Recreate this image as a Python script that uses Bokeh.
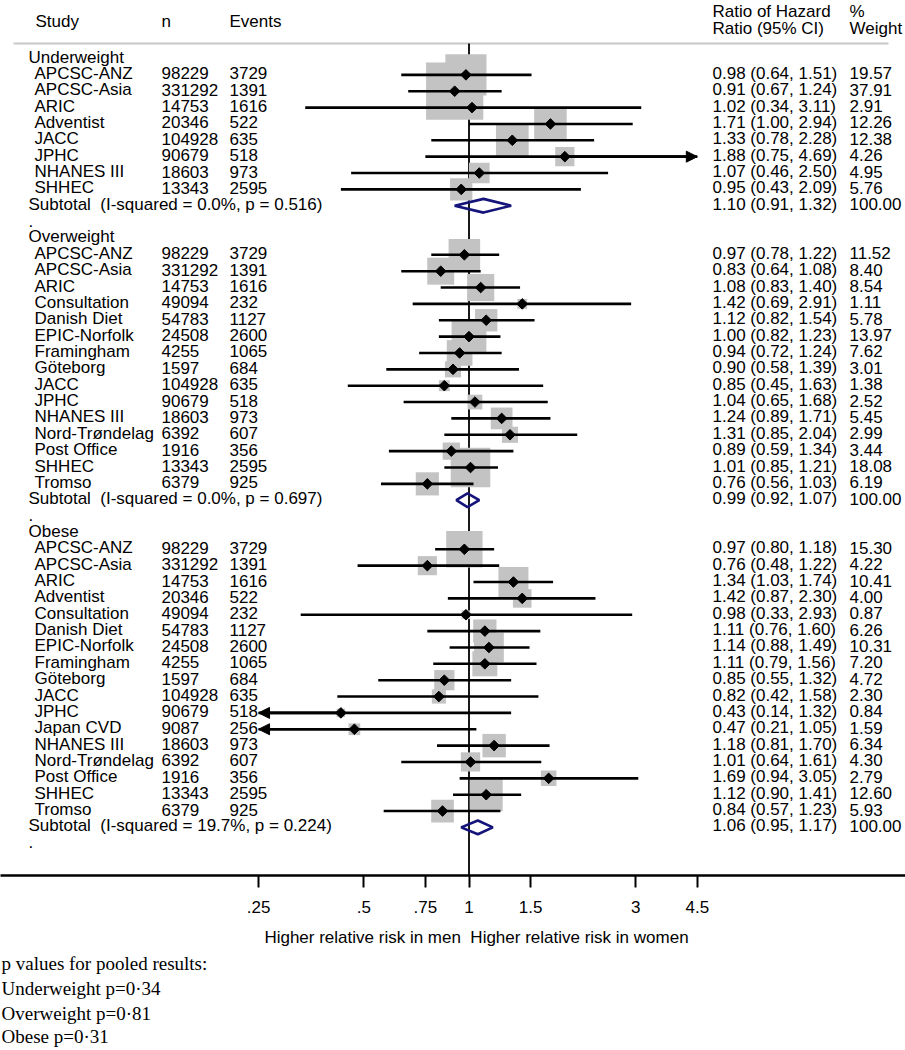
import math
from bokeh.plotting import figure
from bokeh.models import ColumnDataSource, Range1d, LinearScale, FixedTicker, Arrow, NormalHead
from bokeh.layouts import column
from bokeh.embed import file_html
from bokeh.resources import INLINE
from bokeh.core.properties import value

# ---------------- data ----------------
groups = ["Underweight", "Overweight", "Obese"]

uw_study = ["APCSC-ANZ", "APCSC-Asia", "ARIC", "Adventist", "JACC", "JPHC", "NHANES III", "SHHEC"]
uw_n = [98229, 331292, 14753, 20346, 104928, 90679, 18603, 13343]
uw_events = [3729, 1391, 1616, 522, 635, 518, 973, 2595]
uw_hr = [0.98, 0.91, 1.02, 1.71, 1.33, 1.88, 1.07, 0.95]
uw_lo = [0.64, 0.67, 0.34, 1.00, 0.78, 0.75, 0.46, 0.43]
uw_hi = [1.51, 1.24, 3.11, 2.94, 2.28, 4.69, 2.50, 2.09]
uw_weight = [19.57, 37.91, 2.91, 12.26, 12.38, 4.26, 4.95, 5.76]
uw_sub = (1.10, 0.91, 1.32, "0.0%", "0.516")

ow_study = ["APCSC-ANZ", "APCSC-Asia", "ARIC", "Consultation", "Danish Diet", "EPIC-Norfolk",
            "Framingham", "Göteborg", "JACC", "JPHC", "NHANES III", "Nord-Trøndelag",
            "Post Office", "SHHEC", "Tromso"]
ow_n = [98229, 331292, 14753, 49094, 54783, 24508, 4255, 1597, 104928, 90679, 18603, 6392, 1916, 13343, 6379]
ow_events = [3729, 1391, 1616, 232, 1127, 2600, 1065, 684, 635, 518, 973, 607, 356, 2595, 925]
ow_hr = [0.97, 0.83, 1.08, 1.42, 1.12, 1.00, 0.94, 0.90, 0.85, 1.04, 1.24, 1.31, 0.89, 1.01, 0.76]
ow_lo = [0.78, 0.64, 0.83, 0.69, 0.82, 0.82, 0.72, 0.58, 0.45, 0.65, 0.89, 0.85, 0.59, 0.85, 0.56]
ow_hi = [1.22, 1.08, 1.40, 2.91, 1.54, 1.23, 1.24, 1.39, 1.63, 1.68, 1.71, 2.04, 1.34, 1.21, 1.03]
ow_weight = [11.52, 8.40, 8.54, 1.11, 5.78, 13.97, 7.62, 3.01, 1.38, 2.52, 5.45, 2.99, 3.44, 18.08, 6.19]
ow_sub = (0.99, 0.92, 1.07, "0.0%", "0.697")

ob_study = ["APCSC-ANZ", "APCSC-Asia", "ARIC", "Adventist", "Consultation", "Danish Diet",
            "EPIC-Norfolk", "Framingham", "Göteborg", "JACC", "JPHC", "Japan CVD",
            "NHANES III", "Nord-Trøndelag", "Post Office", "SHHEC", "Tromso"]
ob_n = [98229, 331292, 14753, 20346, 49094, 54783, 24508, 4255, 1597, 104928, 90679, 9087, 18603, 6392, 1916, 13343, 6379]
ob_events = [3729, 1391, 1616, 522, 232, 1127, 2600, 1065, 684, 635, 518, 256, 973, 607, 356, 2595, 925]
ob_hr = [0.97, 0.76, 1.34, 1.42, 0.98, 1.11, 1.14, 1.11, 0.85, 0.82, 0.43, 0.47, 1.18, 1.01, 1.69, 1.12, 0.84]
ob_lo = [0.80, 0.48, 1.03, 0.87, 0.33, 0.76, 0.88, 0.79, 0.55, 0.42, 0.14, 0.21, 0.81, 0.64, 0.94, 0.90, 0.57]
ob_hi = [1.18, 1.22, 1.74, 2.30, 2.93, 1.60, 1.49, 1.56, 1.32, 1.58, 1.32, 1.05, 1.70, 1.61, 3.05, 1.41, 1.23]
ob_weight = [15.30, 4.22, 10.41, 4.00, 0.87, 6.26, 10.31, 7.20, 4.72, 2.30, 0.84, 1.59, 6.34, 4.30, 2.79, 12.60, 5.93]
ob_sub = (1.06, 0.95, 1.17, "19.7%", "0.224")

tick_values = [0.25, 0.5, 0.75, 1, 1.5, 3, 4.5]
tick_labels = [".25", ".5", ".75", "1", "1.5", "3", "4.5"]

axis_title = "Higher relative risk in men\u00a0 Higher relative risk in women"
pooled_lines = ["p values for pooled results:", "Underweight p=0\u00b734",
                "Overweight p=0\u00b781", "Obese p=0\u00b731"]

# ---------------- layout constants ----------------
FONT = value("Liberation Sans")
FS = "17px"
ROW0 = 58.0      # page y of first row
STEP = 16.36     # row spacing in px
W = 905
FRAME_H = 875    # page 0 .. 875
BORDER_B = 50
H2 = 125
PX0, PX1 = 0, 905
LN0, PXPL = 468.5, 151.8   # page x of 1, px per ln unit
CLIP_LO, CLIP_HI = tick_values[0], tick_values[-1]
BOX_K = 9.3


def row_of(page_y):
    return (page_y - ROW0) / STEP


x_start = math.exp((PX0 - LN0) / PXPL)
x_end = math.exp((PX1 - LN0) / PXPL)
y_bottom = row_of(FRAME_H)
y_top = row_of(0)

# ---------------- build rows ----------------
blocks = [
    (uw_study, uw_n, uw_events, uw_hr, uw_lo, uw_hi, uw_weight, uw_sub),
    (ow_study, ow_n, ow_events, ow_hr, ow_lo, ow_hi, ow_weight, ow_sub),
    (ob_study, ob_n, ob_events, ob_hr, ob_lo, ob_hi, ob_weight, ob_sub),
]

grp_rows, grp_text = [], []
st = dict(row=[], name=[], n=[], ev=[], hr=[], lo=[], hi=[], x0=[], x1=[], box=[], ci=[], w=[])
sub = dict(row=[], label=[], ci=[], w=[], xs=[], ys=[])
dot_rows = []
arr_lo = dict(row=[], xs=[], xe=[])
arr_hi = dict(row=[], xs=[], xe=[])

r = 0
for g, (names, ns, evs, hrs, los, his, ws, sb) in zip(groups, blocks):
    grp_rows.append(r); grp_text.append(g)
    r += 1
    for name, n, ev, hr, lo, hi, w in zip(names, ns, evs, hrs, los, his, ws):
        st["row"].append(r); st["name"].append(name); st["n"].append(str(n)); st["ev"].append(str(ev))
        st["hr"].append(hr); st["lo"].append(lo); st["hi"].append(hi)
        st["x0"].append(max(lo, CLIP_LO)); st["x1"].append(min(hi, CLIP_HI))
        st["box"].append(BOX_K * math.sqrt(w))
        st["ci"].append(f"{hr:.2f} ({lo:.2f}, {hi:.2f})"); st["w"].append(f"{w:.2f}")
        if lo < CLIP_LO:
            arr_lo["row"].append(r); arr_lo["xs"].append(hr); arr_lo["xe"].append(CLIP_LO)
        if hi > CLIP_HI:
            arr_hi["row"].append(r); arr_hi["xs"].append(hr); arr_hi["xe"].append(CLIP_HI)
        r += 1
    shr, slo, shi, i2, pv = sb
    sub["row"].append(r)
    sub["label"].append(f"Subtotal\u00a0 (I-squared = {i2}, p = {pv})")
    sub["ci"].append(f"{shr:.2f} ({slo:.2f}, {shi:.2f})"); sub["w"].append("100.00")
    h = 0.42
    sub["xs"].append([slo, shr, shi, shr]); sub["ys"].append([r, r - h, r, r + h])
    r += 1
    dot_rows.append(r)
    r += 1

# ---------------- main figure ----------------
p = figure(width=W, height=FRAME_H + BORDER_B, x_axis_type="log",
           x_range=Range1d(x_start, x_end), y_range=Range1d(y_bottom, y_top),
           output_backend="svg", toolbar_location=None,
           min_border_left=0, min_border_right=0, min_border_top=0, min_border_bottom=BORDER_B,
           y_axis_location=None)
p.extra_x_ranges = {"px": Range1d(PX0, PX1)}
p.extra_x_scales = {"px": LinearScale()}
p.xgrid.visible = False
p.ygrid.visible = False
p.outline_line_color = None
p.background_fill_color = "white"
p.border_fill_color = "white"

ax = p.xaxis[0]
ax.ticker = FixedTicker(ticks=tick_values)
ax.major_label_overrides = {v: t for v, t in zip(tick_values, tick_labels)}
ax.major_tick_out = 12
ax.major_tick_in = 0
ax.minor_tick_out = 0
ax.minor_tick_in = 0
ax.axis_line_width = 2.5
ax.axis_line_color = "black"
ax.major_tick_line_width = 2
ax.major_tick_line_color = "black"
ax.major_label_text_font = "Liberation Sans"
ax.major_label_text_font_size = FS
ax.major_label_text_color = "black"
ax.major_label_standoff = 13

# header separator
p.segment(x0=13, x1=888, y0=row_of(43), y1=row_of(43), x_range_name="px",
          line_color="#c8c8c8", line_width=2)
# null line
p.segment(x0=1, x1=1, y0=row_of(43), y1=y_bottom, line_color="black", line_width=1.8)

src = ColumnDataSource(st)
p.scatter(x="hr", y="row", size="box", marker="square", source=src,
          fill_color="#c3c3c3", line_color=None)
p.segment(x0="x0", x1="x1", y0="row", y1="row", source=src, line_color="black", line_width=2.6)
for a in (arr_lo, arr_hi):
    if a["row"]:
        p.add_layout(Arrow(source=ColumnDataSource(a), x_start="xs", y_start="row",
                           x_end="xe", y_end="row", line_color="black", line_width=2.6,
                           end=NormalHead(size=11, fill_color="black", line_color="black")))
p.scatter(x="hr", y="row", size=7.5, marker="square", angle=math.pi / 4, source=src,
          fill_color="black", line_color="black")

ssrc = ColumnDataSource(sub)
p.patches(xs="xs", ys="ys", source=ssrc, fill_alpha=0, line_color="#14147a", line_width=2.6)

tk = dict(text_font=FONT, text_font_size=FS, text_color="black", text_baseline="middle",
          y_offset=-1.5, x_range_name="px")
# headers
p.text(x=[35, 161, 229], y=[row_of(22)] * 3, text=["Study", "n", "Events"], **tk)
p.text(x=[712, 712, 849, 849], y=[row_of(12), row_of(29), row_of(12), row_of(29)],
       text=["Ratio of Hazard", "Ratio (95% CI)", "%", "Weight"], **tk)
# groups
p.text(x=28, y=grp_rows, text=grp_text, **tk)
p.text(x=28, y=dot_rows, text=["."] * len(dot_rows), **tk)
# studies
p.text(x=34, y="row", text="name", source=src, **tk)
p.text(x=161, y="row", text="n", source=src, **tk)
p.text(x=229, y="row", text="ev", source=src, **tk)
p.text(x=712, y="row", text="ci", source=src, **tk)
p.text(x=849, y="row", text="w", source=src, **tk)
# subtotals
p.text(x=28, y="row", text="label", source=ssrc, **tk)
p.text(x=712, y="row", text="ci", source=ssrc, **tk)
p.text(x=849, y="row", text="w", source=ssrc, **tk)

# ---------------- bottom texts ----------------
top2 = FRAME_H + BORDER_B
p2 = figure(width=W, height=H2, x_range=Range1d(PX0, PX1), y_range=Range1d(top2 + H2, top2),
            output_backend="svg", toolbar_location=None, min_border=0,
            x_axis_location=None, y_axis_location=None)
p2.xgrid.visible = False
p2.ygrid.visible = False
p2.outline_line_color = None
p2.text(x=[476], y=[937], text=[axis_title], text_font=FONT, text_font_size=FS,
        text_align="center", text_baseline="middle", text_color="black")
p2.text(x=1, y=[963, 988, 1013, 1036], text=pooled_lines, text_font=value("Liberation Serif"),
        text_font_size="19px", text_baseline="middle", text_color="black")

layout = column(p, p2, spacing=0)
open("out.html", "w").write(file_html(layout, INLINE))
